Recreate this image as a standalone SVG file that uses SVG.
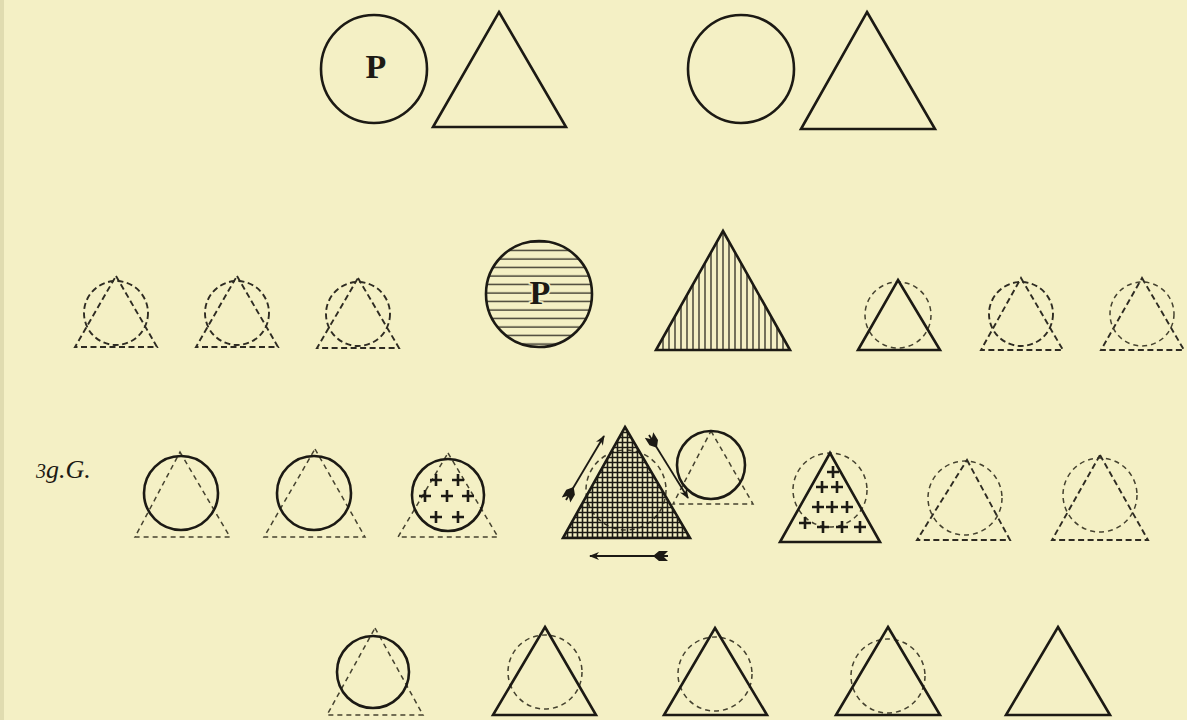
<svg xmlns="http://www.w3.org/2000/svg" width="1187" height="720" viewBox="0 0 1187 720">
<style>
.s{fill:none;stroke:#1c1a14;stroke-width:2.6;stroke-linejoin:miter}
.m{fill:none;stroke:#1c1a14;stroke-width:1.8}
.d{fill:none;stroke:#2e2b22;stroke-width:1.9;stroke-dasharray:6 3.5}
.dl{fill:none;stroke:#45422f;stroke-width:1.5;stroke-dasharray:5 4}
.p{font-family:"Liberation Serif","DejaVu Serif",serif;font-weight:bold;font-size:34px;fill:#1c1a14;text-anchor:middle}
.x{stroke:#1c1a14;stroke-width:2.6}
.lab{font-family:"Liberation Serif","DejaVu Serif",serif;font-style:italic;font-size:26px;fill:#1c1a14}
</style>
<defs>
<pattern id="hh" width="8" height="8.5" patternUnits="userSpaceOnUse"><line x1="0" y1="4" x2="8" y2="4" stroke="#1c1a14" stroke-width="1.2"/></pattern>
<pattern id="vv" width="6" height="8" patternUnits="userSpaceOnUse"><line x1="3" y1="0" x2="3" y2="8" stroke="#1c1a14" stroke-width="1.2"/></pattern>
<pattern id="xx" width="5" height="5" patternUnits="userSpaceOnUse"><path d="M2.5 0V5M0 2.5H5" stroke="#1c1a14" stroke-width="1.6"/></pattern>
<marker id="head" viewBox="0 0 10 10" refX="9" refY="5" markerWidth="10" markerHeight="10" orient="auto" markerUnits="userSpaceOnUse"><path d="M0 1L10 5L0 9L3 5Z" fill="#1c1a14"/></marker>
<marker id="fl" viewBox="0 0 16 12" refX="0" refY="6" markerWidth="16" markerHeight="12" orient="auto" markerUnits="userSpaceOnUse"><path d="M0 1L5 6L0 11L9 11L15 6L9 1Z" fill="#1c1a14"/></marker>
</defs>
<rect width="1187" height="720" fill="#f4f0c5"/>
<rect x="0" y="0" width="4" height="720" fill="#e0dcb0"/>

<!-- Row 1 -->
<g id="r1-circleP"><ellipse class="s" cx="374" cy="69" rx="53" ry="54"/><text class="p" x="376" y="78">P</text></g>
<g id="r1-tri1"><polygon class="s" points="499,12 566,127 433,127"/></g>
<g id="r1-circle2"><ellipse class="s" cx="741" cy="69" rx="53" ry="54"/></g>
<g id="r1-tri2"><polygon class="s" points="867,12 935,129 801,129"/></g>

<!-- Row 2 -->
<g id="r2-a"><polygon class="d" points="116,276 157,347 75,347"/><circle class="d" cx="116" cy="313" r="32"/></g>
<g id="r2-b"><polygon class="d" points="237,276 278,347 196,347"/><circle class="d" cx="237" cy="313" r="32"/></g>
<g id="r2-c"><polygon class="d" points="358,278 399,348 317,348"/><circle class="d" cx="358" cy="314" r="32"/></g>
<g id="r2-circleP"><circle cx="539" cy="294" r="53" fill="url(#hh)"/><circle cx="539" cy="294" r="53" class="s"/><text class="p" x="540" y="304" style="paint-order:stroke;stroke:#f4f0c5;stroke-width:3px">P</text></g>
<g id="r2-triV"><polygon points="723,231 790,350 656,350" fill="url(#vv)"/><polygon class="s" points="723,231 790,350 656,350"/></g>
<g id="r2-d"><circle class="dl" cx="898" cy="315" r="33"/><polygon class="s" points="898,280 940,350 858,350"/></g>
<g id="r2-e"><polygon class="d" points="1021,278 1063,350 981,350"/><circle class="d" cx="1021" cy="314" r="32"/></g>
<g id="r2-f"><polygon class="d" points="1142,278 1184,350 1101,350"/><circle class="dl" cx="1142" cy="314" r="32"/></g>

<!-- Row 3 -->
<g id="label"><text class="lab" x="36" y="478"><tspan font-size="20">3</tspan>g.G.</text></g>
<g id="r3-a"><polygon class="dl" points="180,452 230,537 135,537"/><circle class="s" cx="181" cy="493" r="37"/></g>
<g id="r3-b"><polygon class="dl" points="315,449 365,537 264,537"/><circle class="s" cx="314" cy="493" r="37"/></g>
<g id="r3-c"><polygon class="dl" points="448,453 498,537 398,537"/><circle class="s" cx="448" cy="495" r="36"/>
<g class="x"><path d="M430 480h12M436 474v12M452 480h12M458 474v12M419 496h12M425 490v12M441 496h12M447 490v12M462 496h12M468 490v12M430 517h12M436 511v12M452 517h12M458 511v12"/></g></g>
<g id="r3-triX"><circle class="dl" cx="626" cy="490" r="40"/><polygon points="625,427 690,538 563,538" fill="url(#xx)"/><polygon class="s" points="625,427 690,538 563,538"/></g>
<g id="r3-circ"><polygon class="dl" points="711,431 753,504 673,504"/><circle class="s" cx="711" cy="465" r="34"/></g>
<g id="r3-triC"><circle class="dl" cx="830" cy="490" r="37"/><polygon class="s" points="830,453 880,542 780,542"/>
<g class="x"><path d="M827 472h12M833 466v12M816 487h12M822 481v12M831 487h12M837 481v12M812 507h12M818 501v12M826 507h12M832 501v12M841 507h12M847 501v12M799 523h12M805 517v12M817 527h12M823 521v12M836 527h12M842 521v12M854 527h12M860 521v12"/></g></g>
<g id="r3-e"><circle class="dl" cx="965" cy="498" r="37"/><polygon class="d" points="967,460 1010,540 917,540"/></g>
<g id="r3-f"><circle class="dl" cx="1100" cy="495" r="37"/><polygon class="d" points="1100,455 1148,540 1052,540"/></g>

<g id="connectors">
<line class="m" x1="566" y1="500" x2="604" y2="436" marker-start="url(#fl)" marker-end="url(#head)"/>
<line class="m" x1="649" y1="435" x2="688" y2="498" marker-start="url(#fl)" marker-end="url(#head)"/>
<line class="m" x1="668" y1="556" x2="590" y2="556" marker-start="url(#fl)" marker-end="url(#head)"/>
</g>

<!-- Row 4 -->
<g id="r4-a"><polygon class="dl" points="375,628 423,715 327,715"/><circle class="s" cx="373" cy="672" r="36"/></g>
<g id="r4-b"><circle class="dl" cx="545" cy="672" r="37"/><polygon class="s" points="545,627 596,715 493,715"/></g>
<g id="r4-c"><circle class="dl" cx="715" cy="674" r="37"/><polygon class="s" points="715,628 767,715 664,715"/></g>
<g id="r4-d"><circle class="dl" cx="888" cy="676" r="37"/><polygon class="s" points="888,627 940,715 836,715"/></g>
<g id="r4-e"><polygon class="s" points="1058,627 1110,715 1006,715"/></g>
</svg>
